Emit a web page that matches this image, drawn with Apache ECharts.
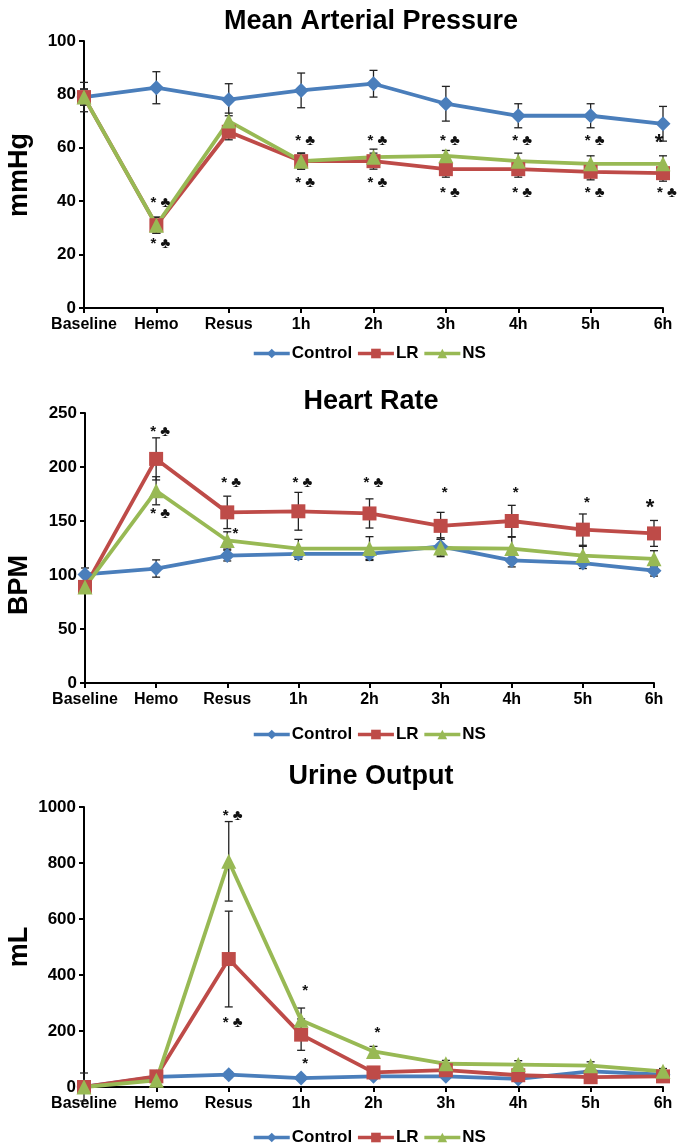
<!DOCTYPE html>
<html>
<head>
<meta charset="utf-8">
<script src="https://cdn.jsdelivr.net/npm/echarts@6/dist/echarts.min.js"></script>
<style>
  html, body { margin: 0; padding: 0; background: #fff; }
  #chart { width: 685px; height: 1146px; }
</style>
</head>
<body>
<div id="chart"></div>
<script>
var categories = ['Baseline', 'Hemo', 'Resus', '1h', '2h', '3h', '4h', '5h', '6h'];
var seriesNames = ['Control', 'LR', 'NS'];

// Mean arterial pressure (mmHg)
var mapControl = [79, 82.5, 78, 81.5, 84, 76.5, 72, 72, 69];
var mapControlErr = [5.5, 6, 6, 6.5, 5, 6.5, 4.5, 4.5, 6.5];
var mapLR = [79, 31, 66, 55, 55, 52, 52, 51, 50.5];
var mapLRErr = [3, 3, 3, 3, 3, 3, 3, 3, 3];
var mapNS = [79, 31, 70, 55, 56.5, 57, 55, 54, 54];
var mapNSErr = [3, 3, 3, 3, 3, 2, 3, 3, 3];
var mapMarkAt = [[1, 39.5], [1, 24], [3, 62.5], [3, 47], [4, 62.5], [4, 47], [5, 62.5], [5, 43.3], [6, 62.5], [6, 43.3], [7, 62.5], [7, 43.3], [8, 62], [8, 43.3]];
var mapMarkText = ['* ♣', '* ♣', '* ♣', '* ♣', '* ♣', '* ♣', '* ♣', '* ♣', '* ♣', '* ♣', '* ♣', '* ♣', '*', '* ♣'];

// Heart rate (BPM)
var hrControl = [100.5, 106, 118, 119.5, 119.5, 126.5, 113.5, 111, 104];
var hrControlErr = [6, 8, 5, 5, 5, 8, 6, 5, 5];
var hrLR = [89, 207.5, 158, 159, 157, 145.5, 150, 142, 138.5];
var hrLRErr = [5, 19.5, 15, 17.5, 13.5, 12.5, 14.5, 14.5, 12];
var hrNS = [89, 178, 132, 124.5, 124.5, 125, 124.5, 118, 115];
var hrNSErr = [5, 13, 8, 8.5, 11, 8, 10.5, 8.5, 7.5];
var hrMarkAt = [[1, 233], [1, 156.5], [2, 185], [2, 138], [3, 185], [4, 185], [5, 176], [6, 176], [7, 166.5], [8, 162]];
var hrMarkText = ['* ♣', '* ♣', '* ♣', '  *', '* ♣', '* ♣', '*', '*', '*', '*'];

// Urine output (mL)
var uoControl = [0, 36, 44, 32, 38, 38, 29, 56, 44];
var uoControlErr = [50, 8, 10, 8, 8, 8, 8, 10, 8];
var uoLR = [0, 38, 457, 187, 52, 60, 42, 35, 38];
var uoLRErr = [5, 8, 171, 56, 10, 10, 10, 10, 10];
var uoNS = [0, 24, 806, 238, 127, 83, 80, 76, 56];
var uoNSErr = [5, 8, 142, 44, 18, 12, 14, 14, 10];
var uoMarkAt = [[2, 968], [2, 229], [3, 342], [3, 82], [4, 195]];
var uoMarkText = ['* ♣', '* ♣', '*', '*', '*'];

var colors = ['#4a7ebb', '#be4b48', '#98b954'];
var symbols = ['diamond', 'rect', 'triangle'];
var symbolSizes = [15, 14, 15];
var font = '"Liberation Sans", Arial, Helvetica, sans-serif';

var panels = [
  { title: 'Mean Arterial Pressure', unit: 'mmHg', max: 100, interval: 20,
    left: 84, top: 41, width: 579, height: 267, titleY: 3, unitX: 20, unitY: 175, legendY: 340,
    means: [mapControl, mapLR, mapNS], errs: [mapControlErr, mapLRErr, mapNSErr],
    marks: mapMarkAt, markText: mapMarkText },
  { title: 'Heart Rate', unit: 'BPM', max: 250, interval: 50,
    left: 85, top: 413, width: 569, height: 270, titleY: 383, unitX: 20, unitY: 585, legendY: 721,
    means: [hrControl, hrLR, hrNS], errs: [hrControlErr, hrLRErr, hrNSErr],
    marks: hrMarkAt, markText: hrMarkText },
  { title: 'Urine Output', unit: 'mL', max: 1000, interval: 200,
    left: 84, top: 807, width: 579, height: 280, titleY: 758, unitX: 20, unitY: 947, legendY: 1124,
    means: [uoControl, uoLR, uoNS], errs: [uoControlErr, uoLRErr, uoNSErr],
    marks: uoMarkAt, markText: uoMarkText }
];

function errorBarSeries(idx, means, errs, name) {
  var data = means.map(function (m, i) { return [i, m - errs[i], m + errs[i]]; });
  return {
    type: 'custom',
    name: name,
    xAxisIndex: idx,
    yAxisIndex: idx,
    z: 1,
    clip: false,
    silent: true,
    data: data,
    encode: { x: 0, y: [1, 2] },
    renderItem: function (params, api) {
      var lo = api.coord([api.value(0), api.value(1)]);
      var hi = api.coord([api.value(0), api.value(2)]);
      var w = 4;
      var st = { stroke: '#222', lineWidth: 1.3 };
      return {
        type: 'group',
        children: [
          { type: 'line', shape: { x1: lo[0], y1: lo[1], x2: hi[0], y2: hi[1] }, style: st },
          { type: 'line', shape: { x1: hi[0] - w, y1: hi[1], x2: hi[0] + w, y2: hi[1] }, style: st },
          { type: 'line', shape: { x1: lo[0] - w, y1: lo[1], x2: lo[0] + w, y2: lo[1] }, style: st }
        ]
      };
    }
  };
}

function markSeries(idx, at, texts) {
  return {
    type: 'custom',
    name: 'marks' + idx,
    xAxisIndex: idx,
    yAxisIndex: idx,
    z: 5,
    clip: false,
    silent: true,
    data: at,
    encode: { x: 0, y: 1 },
    renderItem: function (params, api) {
      var p = api.coord([api.value(0), api.value(1)]);
      var t = texts[params.dataIndex];
      var big = t === '*' && api.value(0) === 8 && idx < 2;
      return {
        type: 'text',
        x: p[0] + (big ? -4 : 4),
        y: p[1],
        style: {
          text: t,
          fill: '#111',
          font: (big ? 'bold 22px ' : 'bold 15px ') + font,
          align: 'center',
          verticalAlign: 'middle'
        }
      };
    }
  };
}

var option = {
  animation: false,
  backgroundColor: '#fff',
  title: [],
  legend: [],
  grid: [],
  xAxis: [],
  yAxis: [],
  graphic: [],
  series: []
};

panels.forEach(function (p, idx) {
  option.title.push({
    text: p.title,
    left: 366,
    top: p.titleY,
    textAlign: 'center',
    textStyle: { fontFamily: font, fontWeight: 'bold', fontSize: 27, color: '#000' }
  });
  option.legend.push({
    data: seriesNames,
    left: 247,
    top: p.legendY,
    itemWidth: 36,
    itemHeight: 12,
    itemGap: 4,
    selectedMode: false,
    lineStyle: { width: 3.5 },
    textStyle: { fontFamily: font, fontWeight: 'bold', fontSize: 17, color: '#000', padding: [0, 0, 0, -3] }
  });
  option.grid.push({ left: p.left, top: p.top, width: p.width, height: p.height, containLabel: false });
  option.xAxis.push({
    type: 'category',
    gridIndex: idx,
    data: categories,
    boundaryGap: false,
    axisLine: { lineStyle: { color: '#000', width: 2 } },
    axisTick: { show: true, length: 5, lineStyle: { color: '#000', width: 2 } },
    axisLabel: { fontFamily: font, fontWeight: 'bold', fontSize: 16, color: '#000', margin: 9, interval: 0 },
    splitLine: { show: false }
  });
  option.yAxis.push({
    type: 'value',
    gridIndex: idx,
    min: 0,
    max: p.max,
    interval: p.interval,
    axisLine: { show: true, lineStyle: { color: '#000', width: 2 } },
    axisTick: { show: true, length: 5, lineStyle: { color: '#000', width: 2 } },
    axisLabel: {
      fontFamily: font, fontWeight: 'bold', fontSize: 17, color: '#000', margin: 8,
      formatter: function (v) { return String(v); }
    },
    splitLine: { show: false }
  });
  option.graphic.push({
    type: 'text',
    x: p.unitX,
    y: p.unitY,
    rotation: Math.PI / 2,
    style: {
      text: p.unit,
      font: 'bold 27px ' + font,
      fill: '#000',
      align: 'center',
      verticalAlign: 'middle'
    }
  });
  p.means.forEach(function (m, s) {
    option.series.push(errorBarSeries(idx, m, p.errs[s], 'err' + idx + '_' + s));
  });
  p.means.forEach(function (m, s) {
    option.series.push({
      type: 'line',
      name: seriesNames[s],
      xAxisIndex: idx,
      yAxisIndex: idx,
      data: m,
      z: 3,
      symbol: symbols[s],
      symbolSize: symbolSizes[s],
      showAllSymbol: true,
      lineStyle: { color: colors[s], width: 3.8 },
      itemStyle: { color: colors[s] }
    });
  });
  option.series.push(markSeries(idx, p.marks, p.markText));
});

var chart = echarts.init(document.getElementById('chart'), null, { renderer: 'canvas' });
chart.setOption(option);
</script>
</body>
</html>
